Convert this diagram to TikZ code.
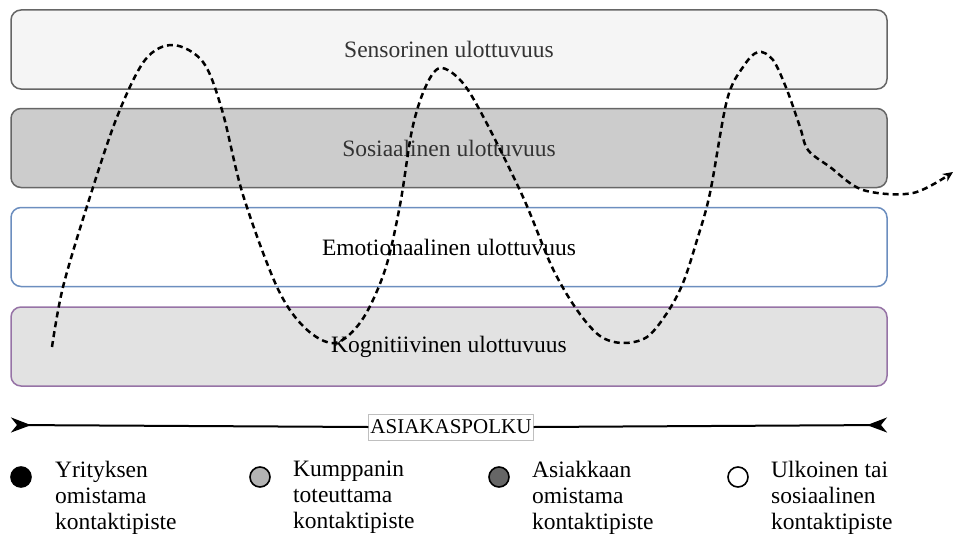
\documentclass[tikz,border=0pt]{standalone}
\usepackage{fontspec}
\setmainfont{Liberation Serif}
\usetikzlibrary{arrows.meta}
\definecolor{sensefill}{HTML}{F5F5F5}
\definecolor{socialfill}{HTML}{CCCCCC}
\definecolor{boxgray}{HTML}{666666}
\definecolor{emoline}{HTML}{6C8EBF}
\definecolor{cogfill}{HTML}{E2E2E2}
\definecolor{cogline}{HTML}{9673A6}
\definecolor{dimtext}{HTML}{333333}
\definecolor{partnerfill}{HTML}{B3B3B3}
\definecolor{customerfill}{HTML}{666666}
\newcommand{\bigtxt}{\fontsize{23.5}{26}\selectfont}

\begin{document}
\begin{tikzpicture}[x=1pt, y=-1pt,
    dim/.style={rectangle, rounded corners=10pt, minimum width=876pt, minimum height=79pt,
                line width=1.5pt, font=\bigtxt},
    journey/.style={line width=2.5pt, dash pattern=on 6pt off 4pt,
                -{Stealth[length=10pt, width=9pt]}},
    pathline/.style={line width=2pt},
    pathtip/.tip={Stealth[length=20pt, width=15pt, inset=6pt, reversed]},
    keydot/.style={circle, draw=black, line width=1.6pt, minimum size=20pt, inner sep=0pt},
    keytxt/.style={anchor=north west, align=left, inner sep=0pt, font=\bigtxt}
  ]
  \useasboundingbox (0,0) rectangle (955,535);

  % ================= DIMENSIONS =================
  \node[dim, fill=sensefill, draw=boxgray, text=dimtext] (sensor) at (449,49.5) {Sensorinen ulottuvuus};
  \node[dim, fill=socialfill, draw=boxgray, text=dimtext] (social) at (449,148) {Sosiaalinen ulottuvuus};
  \node[dim, fill=white, draw=emoline] (emotion) at (449,247) {Emotionaalinen ulottuvuus};
  \node[dim, fill=cogfill, draw=cogline] (cognitive) at (449,346.5) {Kognitiivinen ulottuvuus};

  % customer experience curve over the layers
  \draw[journey] plot[smooth, tension=0.55] coordinates {
    (52,347) (63,287) (88,203) (117,117) (145,60) (173,45) (203,62) (222,110)
    (243,195) (277,287) (305,328) (335,343) (362,320) (385,270) (400,205)
    (412,130) (425,88) (440,68) (462,82) (485,120) (523,197) (552,267)
    (577,310) (600,336) (623,343) (647,337) (667,313) (683,283) (697,240)
    (710,193) (727,100) (743,67) (758,52) (773,60) (787,90) (800,127)
    (808,150) (830,167) (863,190) (913,193) (953,172)};

  % ================= CUSTOMER PATH =================
  \coordinate (pathstart) at (11,425);
  \coordinate (pathend) at (887,425);
  \node[draw=black!25, fill=white, inner xsep=2pt, inner ysep=3pt, minimum height=26pt,
        font=\fontsize{21}{24}\selectfont] (pathlbl) at (451,427) {ASIAKASPOLKU};
  \draw[pathline, pathtip-] (pathstart) -- (pathlbl.west);
  \draw[pathline, -pathtip] (pathlbl.east) -- (pathend);

  % ================= LEGEND =================
  \node[keydot, fill=black] (firmdot) at (21,477) {};
  \node[keydot, fill=partnerfill] (partnerdot) at (260,477) {};
  \node[keydot, fill=customerfill] (customerdot) at (499,477) {};
  \node[keydot, fill=white] (socialdot) at (738,477) {};

  \node[keytxt] (firmtxt) at (55,461) {Yrityksen\\omistama\\kontaktipiste};
  \node[keytxt] (partnertxt) at (293,461) {Kumppanin\\toteuttama\\kontaktipiste};
  \node[keytxt] (customertxt) at (532,461) {Asiakkaan\\omistama\\kontaktipiste};
  \node[keytxt] (socialtxt) at (771,461) {Ulkoinen tai\\sosiaalinen\\kontaktipiste};

\end{tikzpicture}
\end{document}
